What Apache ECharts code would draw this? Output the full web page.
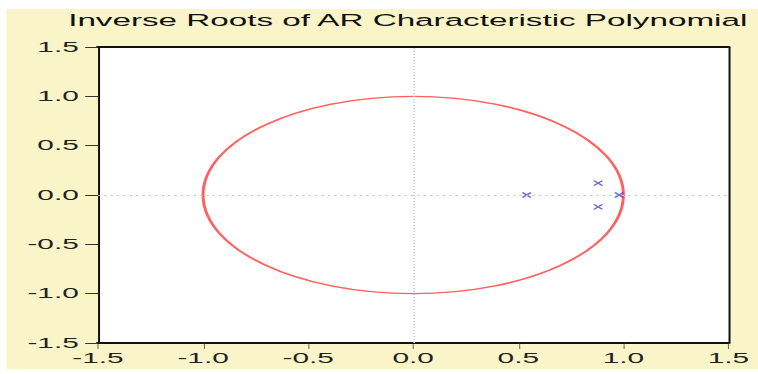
<!DOCTYPE html>
<html>
<head>
<meta charset="utf-8">
<script src="https://cdn.jsdelivr.net/npm/echarts@6/dist/echarts.min.js"></script>
<style>
html, body { margin: 0; padding: 0; background: #ffffff; overflow: hidden; }
#wrap { position: absolute; left: 0; top: 0; width: 356px; height: 374px; transform: scaleX(2.13); transform-origin: 0 0; }
#bg { position: absolute; left: 3px; top: 9px; right: 0; bottom: 5px; background: #FAF5C8; }
#chart { position: absolute; left: 0; top: 0; width: 356px; height: 374px; }
</style>
</head>
<body>
<div id="wrap"><div id="bg"></div><div id="chart"></div></div>
<script>
// Data
const titleText = 'Inverse Roots of AR Characteristic Polynomial';
const axisMin = -1.5;
const axisMax = 1.5;
const axisStep = 0.5;
const circleCenter = [0, 0];
const circleRadius = 1;
const rootsRe = [0.54, 0.88, 0.88, 0.98];
const rootsIm = [0.0, 0.12, -0.12, 0.0];

const K = 2.13; // horizontal stretch of the picture
const chart = echarts.init(document.getElementById('chart'), null, { renderer: 'svg' });
const font = 'Liberation Sans, Arial, sans-serif';

function axis(extra) {
  return Object.assign({
    type: 'value',
    min: axisMin,
    max: axisMax,
    interval: axisStep,
    splitLine: { show: false }
  }, extra);
}
const lbl = (margin) => ({
  color: '#222', fontSize: 14, fontFamily: font, margin: margin,
  formatter: v => v.toFixed(1)
});

chart.setOption({
  animation: false,
  title: {
    text: titleText,
    left: 27, top: 8,
    textStyle: { fontSize: 15.6, fontWeight: 'normal', color: '#111', fontFamily: font }
  },
  grid: {
    left: 46, top: 47, width: 296, height: 296,
    show: true, backgroundColor: '#ffffff', borderWidth: 0
  },
  xAxis: [
    axis({
      position: 'bottom',
      axisLine: { show: true, onZero: false, lineStyle: { color: '#111', width: 2 } },
      axisTick: { show: true, length: 6, lineStyle: { color: '#333', width: 1 / K } },
      axisLabel: lbl(8)
    }),
    axis({
      position: 'top',
      axisLine: { show: true, onZero: false, lineStyle: { color: '#111', width: 2 } },
      axisTick: { show: false },
      axisLabel: { show: false }
    })
  ],
  yAxis: [
    axis({
      position: 'left',
      axisLine: { show: true, onZero: false, lineStyle: { color: '#111', width: 2 / K } },
      axisTick: { show: true, length: 6, lineStyle: { color: '#333', width: 1 } },
      axisLabel: lbl(9)
    }),
    axis({
      position: 'right',
      axisLine: { show: true, onZero: false, lineStyle: { color: '#111', width: 2 / K } },
      axisTick: { show: false },
      axisLabel: { show: false }
    })
  ],
  series: [
    {
      type: 'custom',
      silent: true,
      data: [[circleCenter[0], circleCenter[1], circleRadius]],
      renderItem: function (params, api) {
        const c = api.coord([api.value(0), api.value(1)]);
        const s = api.size([api.value(2), api.value(2)]);
        return {
          type: 'ellipse',
          shape: { cx: c[0], cy: c[1], rx: s[0], ry: s[1] },
          style: { fill: 'none', stroke: '#FF6060', lineWidth: 1.4 }
        };
      },
      z: 3
    },
    {
      type: 'scatter',
      data: rootsRe.map((x, i) => [x, rootsIm[i]]),
      symbol: 'path://M0,0L10,10M10,0L0,10',
      symbolSize: [4, 5],
      itemStyle: { color: 'rgba(0,0,0,0)', borderColor: '#4C4CC0', borderWidth: 1.1 },
      z: 4,
      markLine: {
        silent: true,
        symbol: 'none',
        label: { show: false },
        lineStyle: { color: '#C4C4D4', type: [1, 2], width: 0.8 },
        data: [{ xAxis: 0 }, { yAxis: 0 }],
        animation: false
      }
    }
  ]
});
</script>
</body>
</html>
